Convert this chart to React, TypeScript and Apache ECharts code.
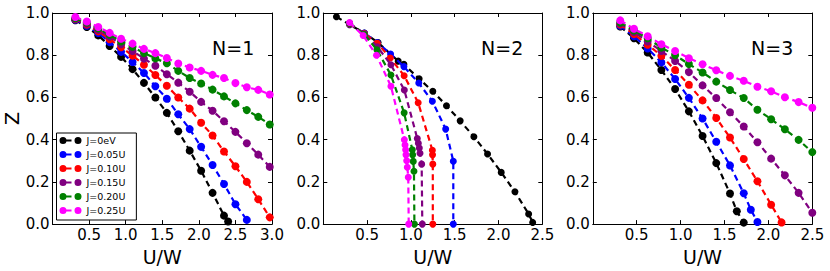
import React, { useEffect, useRef } from "react";
import * as echarts from "echarts";

// ---------- data ----------
const SERIES_NAMES = ["J=0eV", "J=0.05U", "J=0.10U", "J=0.15U", "J=0.20U", "J=0.25U"];
const COLORS = ["#000000", "#0000ff", "#ff0000", "#800080", "#008000", "#ff00ff"];
const PANEL_LABELS = ["N=1", "N=2", "N=3"];
const X_MAX = [3.0, 2.5, 2.5];

// N=1 : common U/W grid
const U1 = [0.3125, 0.469, 0.625, 0.781, 0.9375, 1.094, 1.25, 1.406, 1.5625, 1.719, 1.875, 2.031, 2.1875, 2.344, 2.5, 2.656, 2.8125, 2.969];
const N1_J000 = [0.966, 0.934, 0.894, 0.844, 0.792, 0.734, 0.669, 0.6, 0.527, 0.44, 0.348, 0.253, 0.148, 0.04];
const N1_J000_TAIL = [[2.4, 0.012]];
const N1_J005 = [0.968, 0.94, 0.905, 0.862, 0.816, 0.768, 0.716, 0.653, 0.594, 0.52, 0.45, 0.366, 0.28, 0.19, 0.094, 0.02];
const N1_J010 = [0.97, 0.945, 0.913, 0.876, 0.838, 0.798, 0.755, 0.706, 0.655, 0.6, 0.547, 0.48, 0.42, 0.344, 0.274, 0.2, 0.118, 0.032];
const N1_J015 = [0.972, 0.95, 0.92, 0.888, 0.852, 0.82, 0.784, 0.75, 0.71, 0.67, 0.627, 0.579, 0.537, 0.487, 0.437, 0.383, 0.329, 0.271];
const N1_J020 = [0.975, 0.955, 0.927, 0.897, 0.865, 0.84, 0.81, 0.785, 0.762, 0.726, 0.692, 0.666, 0.637, 0.605, 0.572, 0.54, 0.508, 0.472];
const N1_J025 = [0.981, 0.96, 0.934, 0.906, 0.878, 0.855, 0.83, 0.81, 0.787, 0.761, 0.742, 0.726, 0.707, 0.692, 0.668, 0.648, 0.636, 0.614];

// N=2 : (U/W, Z) pairs
const N2_J000 = [[0.15, 0.982], [0.3, 0.945], [0.469, 0.905], [0.625, 0.86], [0.855, 0.772], [0.92, 0.757], [1.094, 0.688], [1.25, 0.629], [1.406, 0.561], [1.5625, 0.489], [1.719, 0.414], [1.875, 0.332], [2.031, 0.245], [2.1875, 0.153], [2.344, 0.048], [2.39, 0.008]];
const N2_J005 = [[0.3, 0.947], [0.469, 0.905], [0.617, 0.86], [0.768, 0.806], [0.92, 0.746], [1.09, 0.668], [1.245, 0.582], [1.397, 0.45], [1.484, 0.298], [1.484, 0.0]];
const N2_J010 = [[0.3, 0.948], [0.469, 0.903], [0.617, 0.857], [0.765, 0.787], [0.923, 0.703], [1.083, 0.575], [1.245, 0.35], [1.247, 0.328], [1.25, 0.284], [1.25, 0.0]];
const N2_J015 = [[0.3, 0.95], [0.469, 0.9], [0.617, 0.84], [0.772, 0.755], [0.925, 0.635], [1.073, 0.405], [1.085, 0.383], [1.096, 0.36], [1.104, 0.336], [1.123, 0.284], [1.13, 0.0]];
const N2_J020 = [[0.3, 0.952], [0.469, 0.898], [0.612, 0.826], [0.772, 0.706], [0.923, 0.527], [1.016, 0.352], [1.02, 0.328], [1.027, 0.297], [1.035, 0.25], [1.04, 0.0]];
const N2_J025 = [[0.3, 0.955], [0.455, 0.893], [0.607, 0.8], [0.772, 0.653], [0.925, 0.4], [0.933, 0.375], [0.94, 0.352], [0.944, 0.328], [0.952, 0.3], [0.959, 0.269], [0.97, 0.222], [0.975, 0.0]];

// N=3 : common U/W grid
const U3 = [0.3125, 0.469, 0.625, 0.781, 0.9375, 1.094, 1.25, 1.406, 1.5625, 1.719, 1.875, 2.031, 2.1875, 2.344, 2.5];
const N3_J000 = [0.936, 0.88, 0.8125, 0.73, 0.64, 0.534, 0.417, 0.289, 0.145];
const N3_J000_TAIL = [[1.64, 0.061], [1.719, 0.007]];
const N3_J005 = [0.94, 0.89, 0.832, 0.766, 0.6875, 0.598, 0.5, 0.39, 0.278, 0.146];
const N3_J005_TAIL = [[1.8, 0.068], [1.875, 0.01]];
const N3_J010 = [0.945, 0.9, 0.85, 0.797, 0.73, 0.66, 0.586, 0.503, 0.41, 0.308, 0.203, 0.092];
const N3_J010_TAIL = [[2.15, 0.008]];
const N3_J015 = [0.95, 0.91, 0.865, 0.82, 0.773, 0.72, 0.657, 0.597, 0.53, 0.462, 0.388, 0.31, 0.231, 0.148, 0.054];
const N3_J020 = [0.955, 0.917, 0.88, 0.836, 0.8, 0.758, 0.718, 0.675, 0.635, 0.597, 0.542, 0.497, 0.449, 0.399, 0.341];
const N3_J025 = [0.965, 0.925, 0.89, 0.852, 0.82, 0.786, 0.757, 0.729, 0.702, 0.679, 0.651, 0.629, 0.601, 0.578, 0.551];

const zip = (u: number[], z: number[], tail: number[][] = []) =>
  z.map((v, i) => [u[i], v]).concat(tail);

const PANEL_DATA: number[][][][] = [
  [
    zip(U1, N1_J000, N1_J000_TAIL),
    zip(U1, N1_J005),
    zip(U1, N1_J010),
    zip(U1, N1_J015),
    zip(U1, N1_J020),
    zip(U1, N1_J025),
  ],
  [N2_J000, N2_J005, N2_J010, N2_J015, N2_J020, N2_J025],
  [
    zip(U3, N3_J000, N3_J000_TAIL),
    zip(U3, N3_J005, N3_J005_TAIL),
    zip(U3, N3_J010, N3_J010_TAIL),
    zip(U3, N3_J015),
    zip(U3, N3_J020),
    zip(U3, N3_J025),
  ],
];

// ---------- layout ----------
const GRID_LEFT = [52.5, 323.3, 592.8];
const GRID_WIDTH = [219.5, 219, 219.5];
const GRID_TOP = 13;
const GRID_HEIGHT = 214;
const SYMBOL_SIZE = [8, 7, 8];
const LABEL_X = [212, 481, 751];
const FONT = "DejaVu Sans";

const LEGEND_ICON =
  "path://M3.5,0A3.5,3.5,0,1,1,3.5,7A3.5,3.5,0,1,1,3.5,0Z M5,2.6L12,2.6L12,4.4L5,4.4Z M18.5,0A3.5,3.5,0,1,1,18.5,7A3.5,3.5,0,1,1,18.5,0Z";

export default function App() {
  const ref = useRef<HTMLDivElement>(null);

  useEffect(() => {
    if (!ref.current) return;
    const chart = echarts.init(ref.current, undefined, { renderer: "svg" });

    const grids: any[] = [];
    const xAxes: any[] = [];
    const yAxes: any[] = [];
    const series: any[] = [];

    for (let p = 0; p < 3; p++) {
      grids.push({
        left: GRID_LEFT[p],
        top: GRID_TOP,
        width: GRID_WIDTH[p],
        height: GRID_HEIGHT,
        containLabel: false,
      });
      const axisLine = { show: true, onZero: false, lineStyle: { color: "#000", width: 1 } };
      const tick = { show: true, inside: true, length: 4, lineStyle: { color: "#000", width: 1 } };
      xAxes.push({
        type: "value",
        gridIndex: p,
        position: "bottom",
        min: 0,
        max: X_MAX[p],
        interval: 0.5,
        name: "U/W",
        nameLocation: "middle",
        nameGap: 7,
        nameTextStyle: { fontFamily: FONT, fontSize: 19, color: "#000" },
        axisLine,
        axisTick: tick,
        splitLine: { show: false },
        axisLabel: {
          fontFamily: FONT,
          fontSize: 15,
          color: "#000",
          margin: 3,
          formatter: (v: number) => (v === 0 ? "" : v.toFixed(1)),
        },
      });
      xAxes.push({
        type: "value",
        gridIndex: p,
        position: "top",
        min: 0,
        max: X_MAX[p],
        interval: 0.5,
        axisLine,
        axisTick: tick,
        splitLine: { show: false },
        axisLabel: { show: false },
      });
      yAxes.push({
        type: "value",
        gridIndex: p,
        position: "left",
        min: 0,
        max: 1,
        interval: 0.2,
        name: p === 0 ? "Z" : "",
        nameLocation: "middle",
        nameGap: 31,
        nameTextStyle: { fontFamily: FONT, fontSize: 19, color: "#000" },
        axisLine,
        axisTick: tick,
        splitLine: { show: false },
        axisLabel: {
          fontFamily: FONT,
          fontSize: 15,
          color: "#000",
          margin: 3,
          formatter: (v: number) => v.toFixed(1),
        },
      });
      yAxes.push({
        type: "value",
        gridIndex: p,
        position: "right",
        min: 0,
        max: 1,
        interval: 0.2,
        axisLine,
        axisTick: tick,
        splitLine: { show: false },
        axisLabel: { show: false },
      });

      PANEL_DATA[p].forEach((data, s) => {
        series.push({
          type: "line",
          name: SERIES_NAMES[s],
          xAxisIndex: p * 2,
          yAxisIndex: p * 2,
          data,
          symbol: "circle",
          symbolSize: SYMBOL_SIZE[p],
          showAllSymbol: true,
          clip: true,
          color: COLORS[s],
          itemStyle: { color: COLORS[s], borderWidth: 0 },
          lineStyle: { color: COLORS[s], width: 2.2, type: [6, 4] },
          emphasis: { disabled: true },
          silent: true,
          z: 2 + s,
        });
      });
    }

    const graphics = PANEL_LABELS.map((t, p) => ({
      type: "text",
      left: LABEL_X[p],
      top: 38,
      style: { text: t, fontFamily: FONT, fontSize: 19, fill: "#000" },
      z: 100,
    }));

    chart.setOption({
      animation: false,
      backgroundColor: "#fff",
      grid: grids,
      xAxis: xAxes,
      yAxis: yAxes,
      series,
      graphic: graphics,
      legend: {
        data: SERIES_NAMES,
        orient: "vertical",
        left: 56.5,
        top: 133,
        icon: LEGEND_ICON,
        itemWidth: 22,
        itemHeight: 7,
        itemGap: 4,
        padding: [2.5, 11, 4.5, 3],
        borderColor: "#000",
        borderWidth: 1,
        borderRadius: 0,
        backgroundColor: "#fff",
        selectedMode: false,
        itemStyle: { borderWidth: 0 },
        textStyle: { fontFamily: FONT, fontSize: 9.5, color: "#000", lineHeight: 10 },
        z: 50,
      },
    });

    return () => chart.dispose();
  }, []);

  return (
    <div
      ref={ref}
      style={{ position: "fixed", left: 0, top: 0, width: 830, height: 271 }}
    />
  );
}
